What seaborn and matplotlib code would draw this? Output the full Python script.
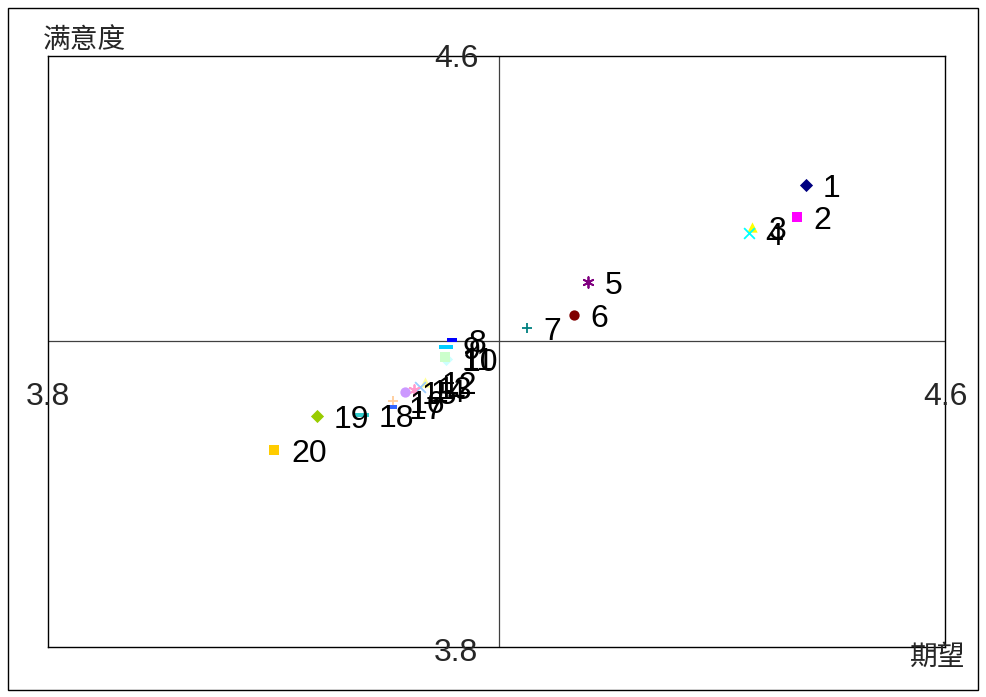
import matplotlib
matplotlib.use("Agg")
import matplotlib.pyplot as plt
from matplotlib.patches import Rectangle
import seaborn as sns
import numpy as np

# expectation (x) and satisfaction (y) for items 1..20
labels = [str(i) for i in range(1, 21)]
expect = [4.476, 4.468, 4.428, 4.425, 4.282, 4.269, 4.227, 4.160, 4.155, 4.155,
          4.154, 4.136, 4.132, 4.126, 4.118, 4.108, 4.107, 4.080, 4.040, 4.002]
satis = [4.425, 4.382, 4.369, 4.360, 4.294, 4.249, 4.232, 4.216, 4.206, 4.190,
         4.192, 4.159, 4.152, 4.148, 4.145, 4.133, 4.125, 4.114, 4.113, 4.067]

colors = ["#000080", "#FF00FF", "#FFFF00", "#00FFFF", "#800080", "#800000", "#008080",
          "#0000FF", "#00CCFF", "#CCFFFF", "#CCFFCC", "#FFFF99", "#99CCFF", "#FF99CC",
          "#CC99FF", "#FFCC99", "#3366FF", "#33CCCC", "#99CC00", "#FFCC00"]

short_dash = [(-1, -0.3), (1, -0.3), (1, 0.3), (-1, 0.3)]
long_dash = [(-1, -0.28), (1, -0.28), (1, 0.28), (-1, 0.28)]
cycle = ["D", "s", "^", "x", (6, 2, 0), "o", "+", "short", "long"]
markers = [cycle[i % len(cycle)] for i in range(20)]

sns.set_style("white")
plt.rcParams["font.family"] = ["Liberation Sans Narrow", "Liberation Sans", "DejaVu Sans"]

fig = plt.figure(figsize=(9.86, 6.97), dpi=100)
ax = fig.add_axes([48 / 986, 1 - 647 / 697, 897 / 986, 591 / 697])

# quadrant lines cross at the mean of each axis
x_mid = np.mean(expect)
y_mid = np.mean(satis)
ax.axvline(x_mid, color="#404040", lw=0.9, zorder=1)
ax.axhline(y_mid, color="#404040", lw=0.9, zorder=1)

for x, y, c, m, lab in zip(expect, satis, colors, markers, labels):
    if m == "short":
        sns.scatterplot(x=[x], y=[y], marker=short_dash, s=55, color=c, edgecolor=c, linewidth=0, ax=ax, zorder=3)
    elif m == "long":
        sns.scatterplot(x=[x], y=[y], marker=long_dash, s=110, color=c, edgecolor=c, linewidth=0, ax=ax, zorder=3)
    elif m in ("x", "+") or isinstance(m, tuple):
        sns.scatterplot(x=[x], y=[y], marker=m, s=60, color=c, linewidth=1.3, ax=ax, zorder=3)
    elif m == "D":
        sns.scatterplot(x=[x], y=[y], marker=m, s=45, color=c, edgecolor=c, linewidth=0, ax=ax, zorder=3)
    else:
        sns.scatterplot(x=[x], y=[y], marker=m, s=55, color=c, edgecolor=c, linewidth=0, ax=ax, zorder=3)
    ax.annotate(lab, (x, y), xytext=(12, -3), textcoords="offset points",
                ha="left", va="center", fontsize=23, color="black", zorder=4)

ax.set_xlim(3.8, 4.6)
ax.set_ylim(3.8, 4.6)
ax.set_xticks([])
ax.set_yticks([])
ax.set_xlabel("")
ax.set_ylabel("")
for sp in ax.spines.values():
    sp.set_visible(True)
    sp.set_color("black")
    sp.set_linewidth(1)

# axis value labels placed beside the crossing lines
tick_kw = dict(textcoords="offset points", fontsize=23, annotation_clip=False)
ax.annotate("3.8", (3.8, y_mid), xytext=(0, -40), ha="center", va="center", **tick_kw)
ax.annotate("4.6", (4.6, y_mid), xytext=(0, -40), ha="center", va="center", **tick_kw)
ax.annotate("4.6", (x_mid, 4.6), xytext=(-31, -2), ha="center", va="center", **tick_kw)
ax.annotate("3.8", (x_mid, 3.8), xytext=(-31, -4), ha="center", va="center", **tick_kw)

fig.text(43 / 986, 1 - 40 / 697, "满意度", ha="left", va="center", fontsize=20,
         family=["Noto Sans CJK SC", "DejaVu Sans"])
fig.text(965 / 986, 1 - 657 / 697, "期望", ha="right", va="center", fontsize=20,
         family=["Noto Sans CJK SC", "DejaVu Sans"])

fig.patches.append(Rectangle((8 / 986, 1 - 690 / 697), 970 / 986, 682 / 697,
                             transform=fig.transFigure, fill=False, edgecolor="black", lw=1))

fig.savefig("out.png", dpi=100, facecolor="white")
